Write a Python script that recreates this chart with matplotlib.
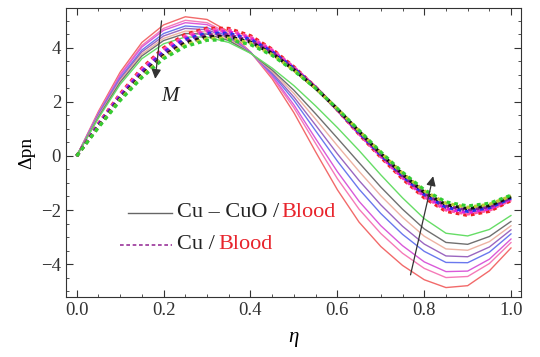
import matplotlib
matplotlib.use("Agg")
import matplotlib.pyplot as plt
from matplotlib.ticker import MultipleLocator

plt.rcParams['font.family'] = ['Liberation Serif', 'DejaVu Serif']
plt.rcParams['mathtext.fontset'] = 'custom'
plt.rcParams['mathtext.rm'] = 'Liberation Serif'
plt.rcParams['mathtext.it'] = 'Liberation Serif:italic'

eta = [0.00, 0.05, 0.10, 0.15, 0.20, 0.25, 0.30, 0.35, 0.40, 0.45, 0.50,
       0.55, 0.60, 0.65, 0.70, 0.75, 0.80, 0.85, 0.90, 0.95, 1.00]

# Cu-CuO/Blood (solid), M increasing from s0 to s7
s0 = [0, 1.65, 3.10, 4.20, 4.85, 5.15, 5.05, 4.60, 3.85, 2.85, 1.60, 0.15, -1.25, -2.45, -3.35, -4.05, -4.58, -4.87, -4.80, -4.25, -3.40]
s1 = [0, 1.60, 3.02, 4.09, 4.72, 5.02, 4.93, 4.53, 3.84, 2.92, 1.78, 0.46, -0.84, -1.97, -2.87, -3.60, -4.16, -4.50, -4.46, -3.98, -3.20]
s2 = [0, 1.58, 2.97, 4.03, 4.65, 4.93, 4.86, 4.48, 3.84, 2.97, 1.89, 0.64, -0.58, -1.68, -2.58, -3.32, -3.92, -4.28, -4.26, -3.82, -3.07]
s3 = [0, 1.54, 2.89, 3.92, 4.53, 4.81, 4.75, 4.42, 3.83, 3.03, 2.06, 0.93, -0.19, -1.23, -2.13, -2.90, -3.53, -3.94, -3.95, -3.56, -2.88]
s4 = [0, 1.51, 2.84, 3.85, 4.44, 4.72, 4.67, 4.37, 3.82, 3.08, 2.18, 1.14, 0.08, -0.91, -1.81, -2.60, -3.26, -3.70, -3.73, -3.37, -2.73]
s5 = [0, 1.47, 2.78, 3.77, 4.35, 4.62, 4.59, 4.32, 3.81, 3.13, 2.31, 1.36, 0.38, -0.57, -1.47, -2.27, -2.97, -3.44, -3.49, -3.17, -2.58]
s6 = [0, 1.44, 2.73, 3.70, 4.27, 4.53, 4.51, 4.27, 3.81, 3.18, 2.43, 1.56, 0.66, -0.25, -1.15, -1.97, -2.70, -3.20, -3.27, -2.98, -2.42]
s7 = [0, 1.40, 2.65, 3.60, 4.15, 4.40, 4.40, 4.20, 3.80, 3.25, 2.60, 1.85, 1.05, 0.20, -0.70, -1.55, -2.32, -2.86, -2.96, -2.72, -2.20]

# Cu/Blood (dashed), M increasing from d0 to d7
d0 = [0, 1.20, 2.30, 3.25, 4.00, 4.50, 4.73, 4.72, 4.45, 3.95, 3.30, 2.55, 1.70, 0.80, -0.05, -0.85, -1.55, -2.05, -2.20, -2.05, -1.65]
d1 = [0, 1.18, 2.26, 3.20, 3.94, 4.44, 4.67, 4.66, 4.40, 3.92, 3.28, 2.54, 1.71, 0.82, -0.02, -0.81, -1.51, -2.00, -2.15, -2.01, -1.62]
d2 = [0, 1.16, 2.23, 3.15, 3.89, 4.37, 4.60, 4.60, 4.36, 3.88, 3.26, 2.54, 1.71, 0.84, 0.01, -0.78, -1.46, -1.95, -2.10, -1.96, -1.59]
d3 = [0, 1.14, 2.19, 3.10, 3.83, 4.31, 4.54, 4.54, 4.31, 3.85, 3.24, 2.53, 1.72, 0.86, 0.04, -0.74, -1.42, -1.90, -2.05, -1.92, -1.56]
d4 = [0, 1.11, 2.16, 3.05, 3.77, 4.24, 4.47, 4.48, 4.26, 3.82, 3.21, 2.52, 1.73, 0.89, 0.06, -0.71, -1.38, -1.85, -2.00, -1.88, -1.54]
d5 = [0, 1.09, 2.12, 3.00, 3.71, 4.18, 4.41, 4.42, 4.21, 3.79, 3.19, 2.51, 1.74, 0.91, 0.09, -0.67, -1.34, -1.80, -1.95, -1.84, -1.51]
d6 = [0, 1.07, 2.09, 2.95, 3.66, 4.11, 4.34, 4.36, 4.17, 3.75, 3.17, 2.51, 1.74, 0.93, 0.12, -0.64, -1.29, -1.75, -1.90, -1.79, -1.48]
d7 = [0, 1.05, 2.05, 2.90, 3.60, 4.05, 4.28, 4.30, 4.12, 3.72, 3.15, 2.50, 1.75, 0.95, 0.15, -0.60, -1.25, -1.70, -1.85, -1.75, -1.45]

solid_colors = ['#f26a6a', '#f57ab8', '#d95ad9', '#6a78ee', '#9a66c0', '#edb3a3', '#707070', '#66dd66']
dashed_colors = ['#ee2222', '#ff55aa', '#dd22dd', '#2233ee', '#882299', '#111111', '#bbcc33', '#33cc33']

xticks = [0.0, 0.2, 0.4, 0.6, 0.8, 1.0]
yticks = [-4, -2, 0, 2, 4]

fig = plt.figure(figsize=(5.4, 3.57), dpi=100)
ax = fig.add_axes([0.122, 0.168, 0.843, 0.810])

for ys, c in zip([s0, s1, s2, s3, s4, s5, s6, s7], solid_colors):
    ax.plot(eta, ys, color=c, lw=1.0, solid_capstyle='round', solid_joinstyle='round')
for ys, c in zip([d0, d1, d2, d3, d4, d5, d6, d7], dashed_colors):
    ax.plot(eta, ys, color=c, lw=2.3, linestyle=(0, (1.2, 1.2)))

ax.set_xlim(-0.025, 1.023)
ax.set_ylim(-5.22, 5.48)
ax.set_xticks(xticks)
ax.set_xticklabels([f"{t:.1f}" for t in xticks])
ax.set_yticks(yticks)
ax.set_yticklabels([f"{t}".replace('-', '\u2212') for t in yticks])
ax.xaxis.set_minor_locator(MultipleLocator(0.05))
ax.yaxis.set_minor_locator(MultipleLocator(0.5))
ax.tick_params(which='both', direction='in', top=True, right=True, labelsize=13.5, colors='#333333')
ax.tick_params(which='major', length=5, width=0.8)
ax.tick_params(which='minor', length=2.5, width=0.6)
for sp in ax.spines.values():
    sp.set_color('#333333')
    sp.set_linewidth(0.8)

ax.set_xlabel(r'$\eta$', fontsize=15, labelpad=8)
ax.set_ylabel('\u0394pn', fontsize=14, labelpad=4)

# arrows for M
ax.annotate('', xy=(0.180, 2.75), xytext=(0.196, 5.1),
            arrowprops=dict(arrowstyle='-|>', color='#333333', lw=0.9, mutation_scale=14))
ax.text(0.215, 2.2, 'M', fontsize=15, style='italic', ha='center', va='center', color='#222222')
ax.annotate('', xy=(0.822, -0.65), xytext=(0.767, -4.5),
            arrowprops=dict(arrowstyle='-|>', color='#333333', lw=0.9, mutation_scale=14))

# legend
ax.plot([0.136, 0.233], [0.291, 0.291], transform=ax.transAxes, color='#666666', lw=1.0)
ax.plot([0.119, 0.233], [0.180, 0.180], transform=ax.transAxes, color='#993399', lw=1.2,
        linestyle=(0, (2.2, 1.6)))
ax.text(0.245, 0.291, 'Cu \u2013 CuO / ', transform=ax.transAxes, fontsize=16,
        va='center', ha='left', color='#222222')
ax.text(0.473, 0.291, 'Blood', transform=ax.transAxes, fontsize=16,
        va='center', ha='left', color='#e8242c')
ax.text(0.245, 0.180, 'Cu / ', transform=ax.transAxes, fontsize=16,
        va='center', ha='left', color='#222222')
ax.text(0.335, 0.180, 'Blood', transform=ax.transAxes, fontsize=16,
        va='center', ha='left', color='#e8242c')

fig.savefig('out.png', dpi=100)
